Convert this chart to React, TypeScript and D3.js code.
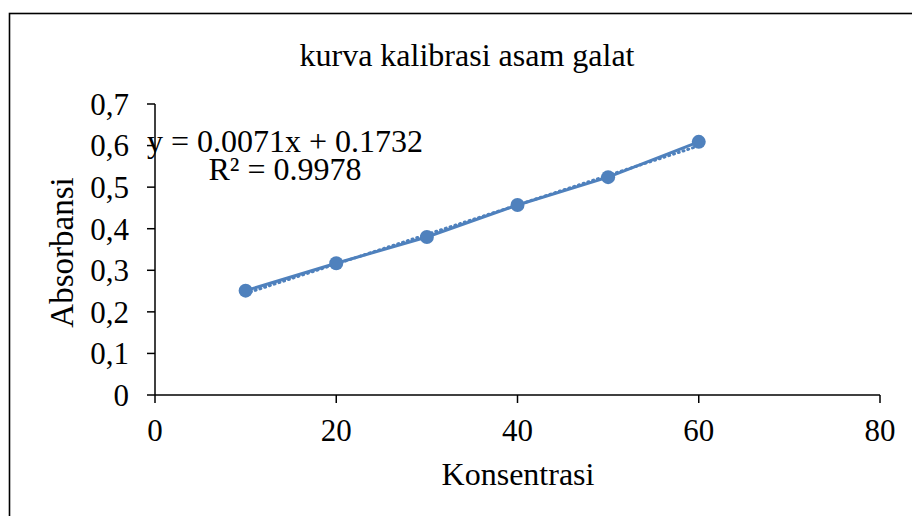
import * as d3 from 'd3'

const konsentrasi = [10, 20, 30, 40, 50, 60]
const absorbansi = [0.251, 0.317, 0.38, 0.457, 0.524, 0.609]
const slope = 0.0071
const intercept = 0.1732
const xTicks = [0, 20, 40, 60, 80]
const yTicks = [0, 0.1, 0.2, 0.3, 0.4, 0.5, 0.6, 0.7]
const chartTitle = 'kurva kalibrasi asam galat'
const xTitle = 'Konsentrasi'
const yTitle = 'Absorbansi'
const eqLine = 'y = 0.0071x + 0.1732'
const r2Line = 'R² = 0.9978'

const W = 912
const H = 516
const blue = '#4f81bd'
const font = '"Liberation Serif", "Times New Roman", serif'

export default function App() {
  const x = d3.scaleLinear().domain([0, 80]).range([155, 880])
  const y = d3.scaleLinear().domain([0, 0.7]).range([395, 104])

  const pts = konsentrasi.map((k, i) => ({ k, a: absorbansi[i] }))
  const line = d3
    .line<{ k: number; a: number }>()
    .x(d => x(d.k))
    .y(d => y(d.a))
  const xs = d3.extent(konsentrasi) as [number, number]
  const trend = xs.map(k => ({ k, a: slope * k + intercept }))

  return (
    <svg
      width={W}
      height={H}
      style={{ position: 'fixed', left: 0, top: 0, background: '#fff' }}
      fontFamily={font}
    >
      <rect x={0} y={0} width={W} height={H} fill="#fff" />
      {/* outer frame */}
      <rect x={9.5} y={13.5} width={W + 20} height={H + 20} fill="none" stroke="#000" strokeWidth={1.6} />

      <text x={467} y={66} textAnchor="middle" fontSize={32} fill="#000">
        {chartTitle}
      </text>

      {/* axes */}
      <line x1={x(0)} x2={x(0)} y1={y(0.7)} y2={y(0)} stroke="#000" strokeWidth={1.5} />
      <line x1={x(0)} x2={x(80)} y1={y(0)} y2={y(0)} stroke="#000" strokeWidth={1.5} />
      {yTicks.map(t => (
        <g key={t}>
          <line x1={x(0) - 8} x2={x(0)} y1={y(t)} y2={y(t)} stroke="#000" strokeWidth={1.5} />
          <text x={129} y={y(t)} dy="0.35em" textAnchor="end" fontSize={31} fill="#000">
            {d3.format('.1f')(t).replace('.', ',').replace(/^0,0$/, '0')}
          </text>
        </g>
      ))}
      {xTicks.map(t => (
        <g key={t}>
          <line x1={x(t)} x2={x(t)} y1={y(0)} y2={y(0) + 8} stroke="#000" strokeWidth={1.5} />
          <text x={x(t)} y={441} textAnchor="middle" fontSize={31} fill="#000">
            {t}
          </text>
        </g>
      ))}

      <text x={518} y={485} textAnchor="middle" fontSize={32} fill="#000">
        {xTitle}
      </text>
      <text
        transform={`translate(73,${(y(0) + y(0.7)) / 2 + 3}) rotate(-90)`}
        textAnchor="middle"
        fontSize={33}
        fill="#000"
      >
        {yTitle}
      </text>

      {/* series */}
      <path d={line(pts) ?? ''} fill="none" stroke={blue} strokeWidth={3} />
      <path
        d={line(trend) ?? ''}
        fill="none"
        stroke={blue}
        strokeWidth={3}
        strokeDasharray="1,4"
        strokeLinecap="round"
      />
      {pts.map(p => (
        <circle key={p.k} cx={x(p.k)} cy={y(p.a)} r={7} fill={blue} />
      ))}

      {/* trendline label */}
      <text x={285} y={152} textAnchor="middle" fontSize={32} fill="#000">
        {eqLine}
      </text>
      <text x={285} y={180} textAnchor="middle" fontSize={32} fill="#000">
        {r2Line}
      </text>
    </svg>
  )
}
